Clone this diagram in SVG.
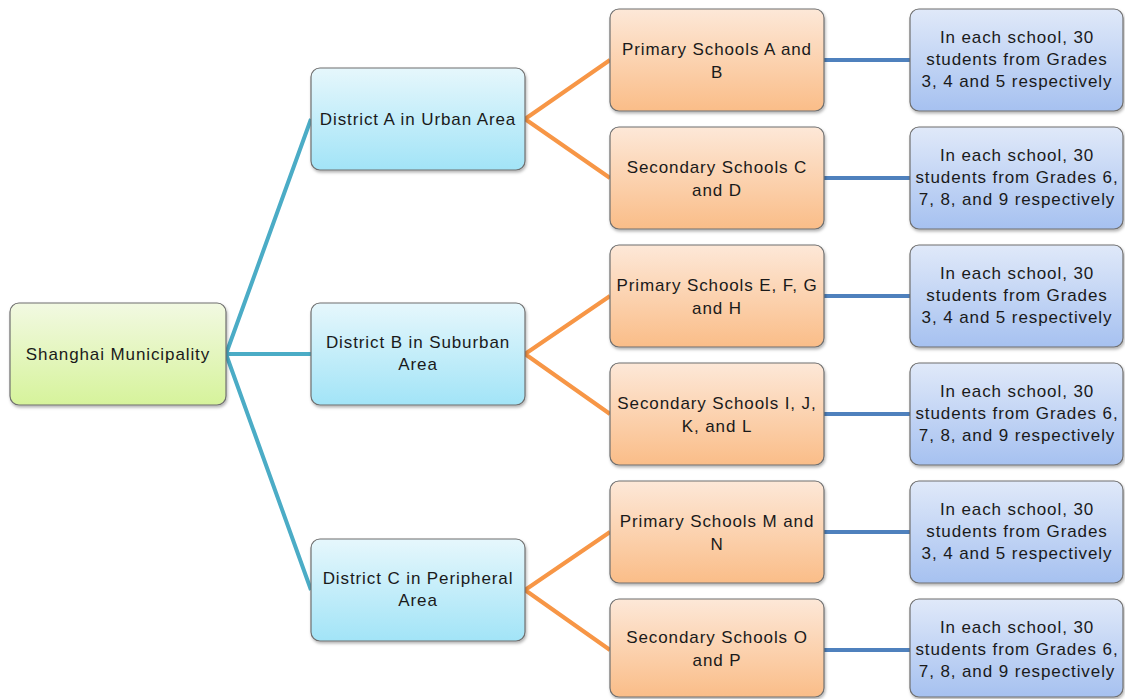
<svg xmlns="http://www.w3.org/2000/svg" width="1125" height="699" viewBox="0 0 1125 699">
<defs>
<linearGradient id="gRoot" x1="0" y1="0" x2="0" y2="1"><stop offset="0" stop-color="#F2F9E2"/><stop offset="1" stop-color="#D6F39B"/></linearGradient>
<linearGradient id="gDist" x1="0" y1="0" x2="0" y2="1"><stop offset="0" stop-color="#E6F7FC"/><stop offset="1" stop-color="#A2E4F7"/></linearGradient>
<linearGradient id="gSch" x1="0" y1="0" x2="0" y2="1"><stop offset="0" stop-color="#FDE8D8"/><stop offset="1" stop-color="#FABD88"/></linearGradient>
<linearGradient id="gLeaf" x1="0" y1="0" x2="0" y2="1"><stop offset="0" stop-color="#E0E9F9"/><stop offset="1" stop-color="#A6C1F0"/></linearGradient>
<filter id="sh" x="-10%" y="-10%" width="125%" height="130%"><feDropShadow dx="1" dy="2" stdDeviation="1.5" flood-color="#000" flood-opacity="0.3"/></filter>
</defs>
<style>
rect{stroke:#6F6F6F;stroke-width:1.2;filter:url(#sh)}
.root{fill:url(#gRoot)}
.dist{fill:url(#gDist)}
.sch{fill:url(#gSch)}
.leaf{fill:url(#gLeaf)}
text{font-family:"Liberation Sans",Arial,sans-serif;font-size:17px;letter-spacing:0.9px;fill:#1a1a1a;text-anchor:middle}
.c1{stroke:#4BACC6;stroke-width:4;fill:none}
.c2{stroke:#F79646;stroke-width:4;fill:none}
.c3{stroke:#4F81BD;stroke-width:4;fill:none}
</style>
<g id="connectors">
<path class="c1" d="M226 354 L311 119 M226 354 L311 354 M226 354 L311 590"/>
<path class="c2" d="M525 119 L610 60 M525 119 L610 178 M525 354 L610 296 M525 354 L610 414 M525 590 L610 532 M525 590 L610 650"/>
<path class="c3" d="M824 60 L910 60 M824 178 L910 178 M824 296 L910 296 M824 414 L910 414 M824 532 L910 532 M824 650 L910 650"/>
</g>
<g id="root"><rect class="root" x="10" y="303" width="216" height="102" rx="9"/><text x="118" y="360">Shanghai Municipality</text></g>
<g id="distA"><rect class="dist" x="311" y="68" width="214" height="102" rx="9"/><text x="418" y="125">District A in Urban Area</text></g>
<g id="distB"><rect class="dist" x="311" y="303" width="214" height="102" rx="9"/><text x="418" y="348">District B in Suburban</text><text x="418" y="370">Area</text></g>
<g id="distC"><rect class="dist" x="311" y="539" width="214" height="102" rx="9"/><text x="418" y="584">District C in Peripheral</text><text x="418" y="606">Area</text></g>
<g id="schA"><rect class="sch" x="610" y="9" width="214" height="102" rx="9"/><text x="717" y="55">Primary Schools A and</text><text x="717" y="78">B</text></g>
<g id="schC"><rect class="sch" x="610" y="127" width="214" height="102" rx="9"/><text x="717" y="173">Secondary Schools C</text><text x="717" y="196">and D</text></g>
<g id="schE"><rect class="sch" x="610" y="245" width="214" height="102" rx="9"/><text x="717" y="291">Primary Schools E, F, G</text><text x="717" y="314">and H</text></g>
<g id="schI"><rect class="sch" x="610" y="363" width="214" height="102" rx="9"/><text x="717" y="409">Secondary Schools I, J,</text><text x="717" y="432">K, and L</text></g>
<g id="schM"><rect class="sch" x="610" y="481" width="214" height="102" rx="9"/><text x="717" y="527">Primary Schools M and</text><text x="717" y="550">N</text></g>
<g id="schO"><rect class="sch" x="610" y="599" width="214" height="98" rx="9"/><text x="717" y="643">Secondary Schools O</text><text x="717" y="666">and P</text></g>
<g id="leaf1"><rect class="leaf" x="910" y="9" width="213" height="102" rx="9"/><text x="1017" y="43">In each school, 30</text><text x="1017" y="65">students from Grades</text><text x="1017" y="87">3, 4 and 5 respectively</text></g>
<g id="leaf2"><rect class="leaf" x="910" y="127" width="213" height="102" rx="9"/><text x="1017" y="161">In each school, 30</text><text x="1017" y="183">students from Grades 6,</text><text x="1017" y="205">7, 8,  and 9 respectively</text></g>
<g id="leaf3"><rect class="leaf" x="910" y="245" width="213" height="102" rx="9"/><text x="1017" y="279">In each school, 30</text><text x="1017" y="301">students from Grades</text><text x="1017" y="323">3, 4 and 5 respectively</text></g>
<g id="leaf4"><rect class="leaf" x="910" y="363" width="213" height="102" rx="9"/><text x="1017" y="397">In each school, 30</text><text x="1017" y="419">students from Grades 6,</text><text x="1017" y="441">7, 8,  and 9 respectively</text></g>
<g id="leaf5"><rect class="leaf" x="910" y="481" width="213" height="102" rx="9"/><text x="1017" y="515">In each school, 30</text><text x="1017" y="537">students from Grades</text><text x="1017" y="559">3, 4 and 5 respectively</text></g>
<g id="leaf6"><rect class="leaf" x="910" y="599" width="213" height="98" rx="9"/><text x="1017" y="633">In each school, 30</text><text x="1017" y="655">students from Grades 6,</text><text x="1017" y="677">7, 8,  and 9 respectively</text></g>
</svg>
